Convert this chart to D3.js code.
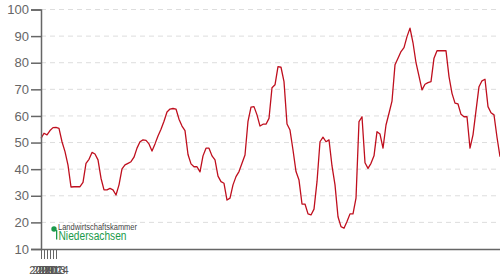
<!DOCTYPE html>
<html lang="de">
<head>
<meta charset="utf-8">
<script src="https://cdn.jsdelivr.net/npm/d3@7"></script>
<style>
  body { margin: 0; background: #fff; }
  svg { display: block; font-family: "Liberation Sans", Arial, sans-serif; }
</style>
</head>
<body>
<svg width="500" height="280"></svg>
<script>
// Wochenwerte (Index der Woche) und Preis
var weeks = d3.range(0, 154);
var values = [
  51.6, 53.5, 52.9, 54.5, 55.6, 55.7, 55.3, 50.3, 46.6, 41.5,
  33.3, 33.4, 33.4, 33.4, 35.0, 42.2, 43.7, 46.3, 45.7, 43.5,
  36.6, 32.2, 32.2, 32.8, 32.2, 30.3, 34.1, 40.1, 41.6, 42.2,
  42.8, 44.5, 47.9, 50.3, 51.0, 50.8, 49.5, 46.8, 49.5, 52.5,
  55.0, 58.0, 61.5, 62.6, 62.8, 62.6, 58.8, 56.2, 54.5, 45.5,
  42.0, 40.9, 40.9, 39.0, 45.0, 47.9, 47.9, 45.0, 43.5, 37.4,
  35.3, 34.7, 28.4, 29.1, 34.1, 37.2, 39.1, 42.2, 45.3, 58.0,
  63.3, 63.5, 60.4, 56.2, 56.9, 56.9, 59.1, 70.6, 71.7, 78.5,
  78.3, 72.9, 57.0, 54.7, 47.2, 39.1, 35.9, 26.9, 26.9, 23.2,
  22.8, 25.0, 35.3, 50.3, 52.0, 50.3, 51.0, 41.2, 34.1, 22.1,
  18.4, 17.8, 20.3, 23.2, 23.2, 29.1, 57.9, 59.7, 42.4, 40.3,
  42.2, 45.0, 54.1, 53.2, 47.9, 56.6, 61.0, 65.6, 79.2, 81.7,
  84.2, 85.7, 89.8, 93.0, 87.5, 80.0, 75.0, 69.8, 71.9, 72.5,
  72.9, 81.7, 84.5, 84.5, 84.5, 84.5, 74.8, 68.5, 64.8, 64.5,
  60.6, 59.7, 59.7, 47.9, 52.9, 62.0, 71.0, 73.2, 73.8, 63.5,
  61.2, 60.4, 52.0, 44.7
];
var yTicks = [10, 20, 30, 40, 50, 60, 70, 80, 90, 100];
var yearLabels = ["2009", "2010", "2011", "2012", "2013", "2014"];

var svg = d3.select("svg");
var margin = {top: 10, right: 0, bottom: 31, left: 41};
var width = 500, height = 280;

var x = d3.scaleLinear().domain([0, weeks.length - 1]).range([margin.left, width - margin.right]);
var y = d3.scaleLinear().domain([10, 100]).range([height - margin.bottom, margin.top - 0.5]);

// Gitterlinien
svg.append("g")
  .selectAll("line")
  .data(yTicks.slice(1))
  .enter()
  .append("line")
  .attr("x1", margin.left)
  .attr("x2", width)
  .attr("y1", function(d){ return y(d); })
  .attr("y2", function(d){ return y(d); })
  .attr("stroke", "#ddd")
  .attr("stroke-dasharray", "5,4");

// Linie
var line = d3.line()
  .x(function(d, i){ return x(weeks[i]); })
  .y(function(d){ return y(d); });

svg.append("path")
  .datum(values)
  .attr("fill", "none")
  .attr("stroke", "#bf0f1e")
  .attr("stroke-width", 1.3)
  .attr("stroke-linejoin", "round")
  .attr("d", line);

// Y-Achse
var gy = svg.append("g")
  .attr("transform", "translate(" + margin.left + ",0)")
  .call(d3.axisLeft(y).tickValues(yTicks).tickSize(10).tickPadding(2));
gy.select(".domain").attr("stroke", "#666").attr("stroke-width", 1.5);
gy.selectAll(".tick line").attr("stroke", "#666").attr("stroke-width", 1.5);
gy.selectAll("text").attr("fill", "#666").style("font-size", "13px");

// X-Achse (nur Linie)
var gx = svg.append("g")
  .attr("transform", "translate(0," + y(10) + ")")
  .call(d3.axisBottom(x).tickValues([]).tickSizeOuter(0));
gx.select(".domain").attr("stroke", "#666").attr("stroke-width", 1.5);

// zusammengedrängte Jahresbeschriftung
var xYears = d3.scalePoint().domain(yearLabels).range([margin.left, margin.left + 15]);
var gyr = svg.append("g")
  .attr("transform", "translate(0," + y(10) + ")")
  .call(d3.axisBottom(xYears).tickSize(10).tickPadding(7));
gyr.select(".domain").remove();
gyr.selectAll(".tick line").attr("stroke", "#666");
gyr.selectAll("text").attr("fill", "#555").style("font-size", "11px");

// Logo
var logo = svg.append("g");
logo.append("circle").attr("cx", 54).attr("cy", 229).attr("r", 2.7).attr("fill", "#1a9a4a");
logo.append("rect").attr("x", 56).attr("y", 230).attr("width", 1.3).attr("height", 9.5).attr("fill", "#1a9a4a");
logo.append("text").attr("x", 58).attr("y", 230)
  .style("font-size", "8.6px").attr("fill", "#444")
  .attr("textLength", 79).attr("lengthAdjust", "spacingAndGlyphs")
  .text("Landwirtschaftskammer");
logo.append("text").attr("x", 58.5).attr("y", 240)
  .style("font-size", "12px").attr("fill", "#1a9a4a")
  .attr("textLength", 68).attr("lengthAdjust", "spacingAndGlyphs")
  .text("Niedersachsen");
</script>
</body>
</html>
